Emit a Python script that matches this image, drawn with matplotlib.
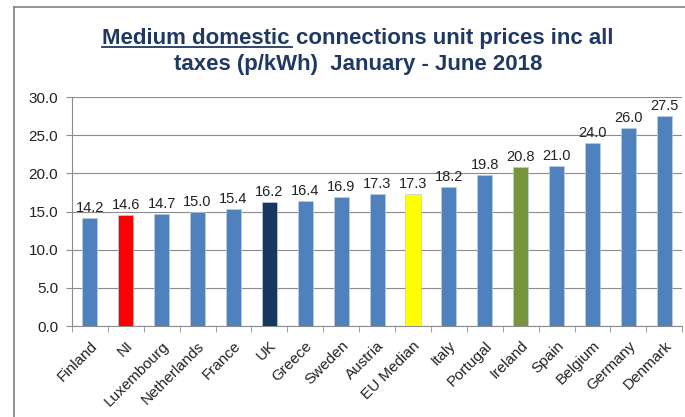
import numpy as np
import matplotlib
matplotlib.use("Agg")
import matplotlib.pyplot as plt
from matplotlib.lines import Line2D

plt.rcParams['font.family'] = ['Liberation Sans', 'DejaVu Sans']

countries = ["Finland", "NI", "Luxembourg", "Netherlands", "France", "UK", "Greece",
             "Sweden", "Austria", "EU Median", "Italy", "Portugal", "Ireland", "Spain",
             "Belgium", "Germany", "Denmark"]
prices = [14.2, 14.6, 14.7, 15.0, 15.4, 16.2, 16.4, 16.9, 17.3, 17.3, 18.2, 19.8,
          20.8, 21.0, 24.0, 26.0, 27.5]
highlight = {"NI": "#FF0000", "UK": "#17375E", "EU Median": "#FFFF00", "Ireland": "#77933C"}
base_color = "#4F81BD"

colors = [highlight.get(c, base_color) for c in countries]
x = np.arange(len(countries))

fig = plt.figure(figsize=(6.85, 4.17), dpi=100)
ax = fig.add_axes([0.105, 0.218, 0.891, 0.549])

ax.bar(x, prices, width=0.42, color=colors, edgecolor="#B9CDE5", linewidth=0.5, zorder=3)
for xi, v in zip(x, prices):
    ax.text(xi, v + 0.4, f"{v:.1f}", ha="center", va="bottom", fontsize=10.5, color="#222222")

ax.set_xlim(-0.5, len(countries) - 0.5)
ax.set_ylim(0, 30)
ax.set_yticks(np.arange(0, 30.1, 5))
ax.set_yticklabels([f"{v:.1f}" for v in np.arange(0, 30.1, 5)], fontsize=11, color="#222222")
ax.yaxis.grid(True, color="#8C8C8C", linewidth=0.8, zorder=0)
ax.set_axisbelow(True)

ax.set_xticks(x)
ax.set_xticklabels(countries, rotation=45, ha="right", rotation_mode="anchor",
                   fontsize=11, color="#222222")
ax.tick_params(axis="x", length=0, pad=9)
ax.set_xticks(np.arange(-0.5, len(countries), 1), minor=True)
ax.tick_params(axis="x", which="minor", length=4, color="#8C8C8C")
ax.tick_params(axis="y", length=4, color="#8C8C8C", pad=6)

for s in ["top", "right"]:
    ax.spines[s].set_visible(False)
for s in ["left", "bottom"]:
    ax.spines[s].set_color("#8C8C8C")

# chart frame
fig.add_artist(Line2D([14 / 685, 14 / 685], [0, 1 - 7 / 417], color="#7F7F7F", linewidth=1.2,
                      transform=fig.transFigure))
fig.add_artist(Line2D([14 / 685, 1], [1 - 7 / 417, 1 - 7 / 417], color="#7F7F7F", linewidth=1.2,
                      transform=fig.transFigure))

# title with underlined first words
title_color = "#1F3864"
fs = 16
t1a = fig.text(0, 0, "Medium domestic ", fontsize=fs, fontweight="bold", color=title_color)
t1b = fig.text(0, 0, "connections unit prices inc all", fontsize=fs, fontweight="bold", color=title_color)
fig.canvas.draw()
r = fig.canvas.get_renderer()
wa = t1a.get_window_extent(r).width
wb = t1b.get_window_extent(r).width
W = fig.bbox.width
H = fig.bbox.height
x0 = (358 - (wa + wb) / 2)
y1 = H - 44
t1a.set_position((x0 / W, y1 / H))
t1b.set_position(((x0 + wa) / W, y1 / H))
fig.add_artist(Line2D([x0 / W, (x0 + wa - 4) / W], [(y1 - 3) / H, (y1 - 3) / H],
                      color=title_color, linewidth=1.3, transform=fig.transFigure))
fig.text(358 / W, 1 - 70 / 417, "taxes (p/kWh)  January - June 2018", fontsize=fs,
         fontweight="bold", color=title_color, ha="center")

fig.savefig("out.png", dpi=100)
